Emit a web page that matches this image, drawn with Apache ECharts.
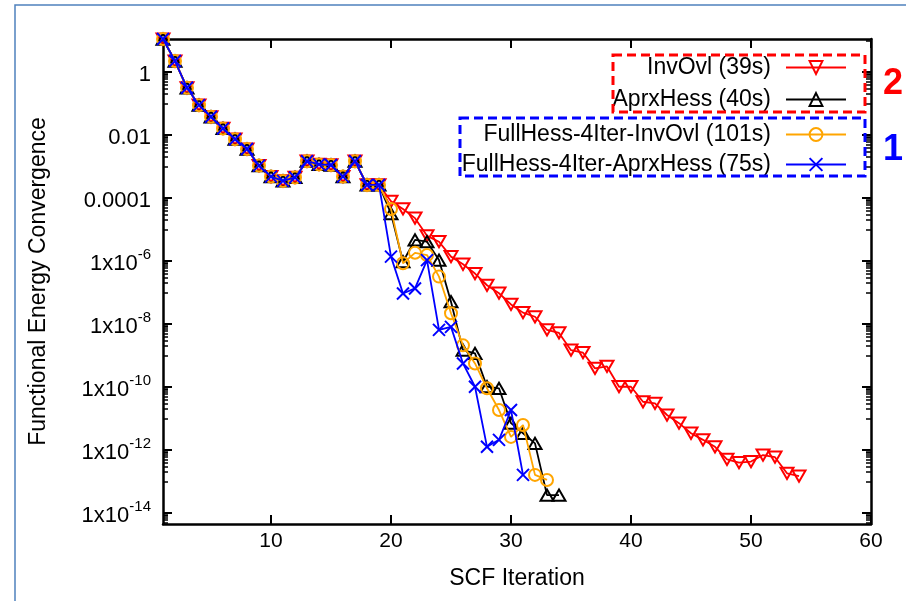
<!DOCTYPE html>
<html>
<head>
<meta charset="utf-8">
<script src="https://cdn.jsdelivr.net/npm/echarts@6/dist/echarts.min.js"></script>
<style>
  html, body { margin: 0; padding: 0; background: #fff; }
  #chart { width: 906px; height: 601px; }
</style>
</head>
<body>
<div id="chart"></div>
<script>
// SCF convergence history: functional energy change per iteration (log scale)

// iterations 1..19 are identical for every method
const commonStart = [
  11.2, 2.24, 0.316, 8.9e-2, 3.8e-2, 1.62e-2, 7.4e-3, 3.6e-3, 1.07e-3, 4.8e-4,
  3.5e-4, 4.5e-4, 1.48e-3, 1.17e-3, 1.12e-3, 4.8e-4, 1.48e-3, 2.6e-4, 2.6e-4
];

// iterations 20 onward, per method
const invOvlTail = [
  7.9e-5, 4.5e-5, 2.3e-5, 6.3e-6, 4.1e-6, 1.38e-6, 7.9e-7, 4.0e-7, 1.7e-7, 9.5e-8,
  4.2e-8, 2.3e-8, 1.7e-8, 6.5e-9, 5.2e-9, 1.48e-9, 1.23e-9, 3.9e-10, 4.5e-10, 1.02e-10,
  1.02e-10, 3.4e-11, 3.0e-11, 1.29e-11, 7.1e-12, 3.4e-12, 2.1e-12, 1.26e-12, 5.0e-13, 4.0e-13,
  4.3e-13, 6.9e-13, 5.9e-13, 1.82e-13, 1.48e-13
];
const aprxHessTail = [
  3.2e-5, 9.5e-7, 4.7e-6, 4.1e-6, 1.07e-6, 5.1e-8, 1.48e-9, 1.17e-9, 1.02e-10, 9.1e-11,
  7.1e-12, 3.4e-12, 1.62e-12, 3.7e-14, 3.7e-14
];
const fullHessInvOvlTail = [
  4.5e-5, 8.5e-7, 1.82e-6, 1.55e-6, 3.2e-7, 2.2e-8, 2.1e-9, 5.6e-10, 9.1e-11, 1.86e-11,
  2.6e-12, 6.2e-12, 1.62e-13, 1.12e-13
];
const fullHessAprxHessTail = [
  1.38e-6, 9.3e-8, 1.35e-7, 1.07e-6, 6.5e-9, 8.1e-9, 5.6e-10, 1.02e-10, 1.26e-12, 2.1e-12,
  1.86e-11, 1.62e-13
];

const seriesNames = [
  'InvOvl (39s)',
  'AprxHess (40s)',
  'FullHess-4Iter-InvOvl (101s)',
  'FullHess-4Iter-AprxHess (75s)'
];
const seriesColors = ['#ff0000', '#000000', '#ffa500', '#0000ff'];

const xTickValues = [10, 20, 30, 40, 50, 60];
const yTickValues = [1, 1e-2, 1e-4, 1e-6, 1e-8, 1e-10, 1e-12, 1e-14];
const xRange = [1, 60];
const yRange = [Math.pow(10, -14.35), Math.pow(10, 1.05)];

// minor ticks: k * 10^(odd exponent), k = 1..9
const yMinorTicks = [];
for (let e = -15; e <= 1; e += 2) {
  for (let k = 1; k <= 9; k++) {
    const v = k * Math.pow(10, e);
    if (v > yRange[0] && v < yRange[1]) yMinorTicks.push(v);
  }
}

function toPairs(tail) {
  return commonStart.concat(tail).map((v, i) => [i + 1, v]);
}

const tails = [invOvlTail, aprxHessTail, fullHessInvOvlTail, fullHessAprxHessTail];
const symbols = [
  'path://M0,0L10,0L5,8.66Z',
  'path://M5,0L10,8.66L0,8.66Z',
  'circle',
  'path://M0,0L10,10M10,0L0,10'
];
const symbolSizes = [13, 13, 12, 12];

const FONT = '"Liberation Sans", Arial, sans-serif';

function yLabel(v) {
  const e = Math.round(Math.log10(v));
  if (e >= -4) {
    return '{b|' + (e === 0 ? '1' : v.toFixed(-e)) + '}';
  }
  return '{b|1x10}{sup|' + e + '}';
}

const frameLine = { show: true, lineStyle: { color: '#000', width: 2.5 } };

const chart = echarts.init(document.getElementById('chart'), null, { renderer: 'canvas' });

const legendRows = [68, 100, 135, 165];
const legends = seriesNames.map((name, i) => ({
  data: [name],
  orient: 'vertical',
  align: 'right',
  right: 59,
  top: legendRows[i] - 12,
  padding: 0,
  itemWidth: 60,
  itemHeight: 16,
  itemStyle: { borderWidth: 2 },
  selectedMode: false,
  textStyle: { fontFamily: FONT, fontSize: 23, color: '#000', padding: [0, 10, 0, 0] }
}));

const option = {
  backgroundColor: '#fff',
  animation: false,
  textStyle: { fontFamily: FONT },
  grid: { left: 163, right: 35, top: 39, bottom: 77, containLabel: false },
  legend: legends,
  xAxis: [
    {
      type: 'value', min: xRange[0], max: xRange[1],
      name: 'SCF Iteration', nameLocation: 'middle', nameGap: 43,
      nameTextStyle: { fontFamily: FONT, fontSize: 23, color: '#000' },
      axisLine: frameLine,
      axisTick: { show: true, inside: true, length: 9, customValues: xTickValues, lineStyle: { color: '#000', width: 2 } },
      axisLabel: { customValues: xTickValues, fontFamily: FONT, fontSize: 21, color: '#000', margin: 7 },
      splitLine: { show: false }
    },
    {
      type: 'value', min: xRange[0], max: xRange[1], position: 'top',
      axisLine: frameLine,
      axisTick: { show: true, inside: true, length: 9, customValues: xTickValues, lineStyle: { color: '#000', width: 2 } },
      axisLabel: { show: false },
      splitLine: { show: false }
    }
  ],
  yAxis: [
    {
      type: 'log', min: yRange[0], max: yRange[1], position: 'left',
      name: 'Functional Energy Convergence', nameLocation: 'middle', nameGap: 113, nameRotate: 90,
      nameTextStyle: { fontFamily: FONT, fontSize: 23, color: '#000' },
      axisLine: frameLine,
      axisTick: { show: true, inside: true, length: 9, customValues: yTickValues, lineStyle: { color: '#000', width: 2 } },
      axisLabel: {
        customValues: yTickValues, margin: 12, color: '#000', formatter: yLabel,
        rich: {
          b: { fontFamily: FONT, fontSize: 22, color: '#000', lineHeight: 28, verticalAlign: 'bottom' },
          sup: { fontFamily: FONT, fontSize: 15, color: '#000', lineHeight: 28, verticalAlign: 'top' }
        }
      },
      splitLine: { show: false }
    },
    {
      type: 'log', min: yRange[0], max: yRange[1], position: 'right',
      axisLine: frameLine,
      axisTick: { show: true, inside: true, length: 9, customValues: yTickValues, lineStyle: { color: '#000', width: 2 } },
      axisLabel: { show: false },
      splitLine: { show: false }
    },
    {
      type: 'log', min: yRange[0], max: yRange[1], position: 'left',
      axisLine: { show: false },
      axisTick: { show: true, inside: true, length: 5, customValues: yMinorTicks, lineStyle: { color: '#000', width: 1.5 } },
      axisLabel: { show: false },
      splitLine: { show: false }
    },
    {
      type: 'log', min: yRange[0], max: yRange[1], position: 'right',
      axisLine: { show: false },
      axisTick: { show: true, inside: true, length: 5, customValues: yMinorTicks, lineStyle: { color: '#000', width: 1.5 } },
      axisLabel: { show: false },
      splitLine: { show: false }
    }
  ],
  series: seriesNames.map((name, i) => ({
    name: name,
    type: 'line',
    data: toPairs(tails[i]),
    symbol: symbols[i],
    symbolSize: symbolSizes[i],
    symbolKeepAspect: true,
    showAllSymbol: true,
    z: 2 + i,
    lineStyle: { color: seriesColors[i], width: 1.8 },
    itemStyle: { color: 'rgba(0,0,0,0)', borderColor: seriesColors[i], borderWidth: 2 },
    emphasis: { disabled: true }
  })),
  graphic: [
    // outer frame around the figure
    { type: 'polyline', shape: { points: [[15, 601], [15, 5], [906, 5]] }, style: { stroke: '#4f81bd', lineWidth: 1.5, fill: null }, silent: true },
    // dashed group boxes around the legend entries
    { type: 'rect', shape: { x: 613, y: 55, width: 252, height: 57 }, style: { stroke: '#ff0000', lineWidth: 3, lineDash: [9, 5], fill: null }, silent: true, z: 10 },
    { type: 'rect', shape: { x: 460, y: 118, width: 405, height: 58 }, style: { stroke: '#0000ff', lineWidth: 3, lineDash: [9, 5], fill: null }, silent: true, z: 10 },
    { type: 'text', x: 893, y: 84, style: { text: '2', fill: '#ff0000', font: 'bold 36px ' + FONT, textAlign: 'center', textVerticalAlign: 'middle' }, silent: true, z: 10 },
    { type: 'text', x: 893, y: 150, style: { text: '1', fill: '#0000ff', font: 'bold 36px ' + FONT, textAlign: 'center', textVerticalAlign: 'middle' }, silent: true, z: 10 }
  ]
};

chart.setOption(option);
</script>
</body>
</html>
